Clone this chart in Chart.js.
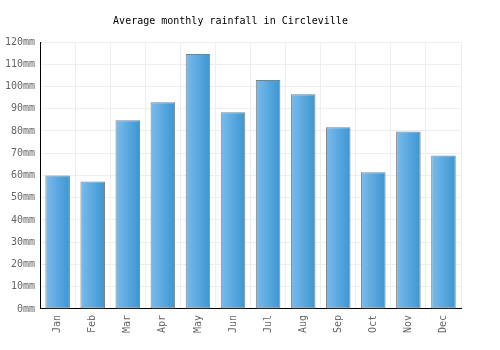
<!DOCTYPE html>
<html><head><meta charset="utf-8">
<script src="https://cdn.jsdelivr.net/npm/chart.js@4"></script>
<style>html,body{margin:0;padding:0;background:#fff}#wrap{width:500px;height:350px}</style>
</head><body><div id="wrap"><canvas id="c" width="500" height="350"></canvas></div>
<script>
const months = ["Jan","Feb","Mar","Apr","May","Jun","Jul","Aug","Sep","Oct","Nov","Dec"];
const rainfall = [60, 57.3, 84.8, 92.9, 114.6, 88.4, 102.9, 96.5, 81.7, 61.4, 79.8, 69];
const yTicks = [0,10,20,30,40,50,60,70,80,90,100,110,120];

const gradPlugin = {
  id: 'grad',
  beforeDatasetsDraw(chart) {
    const ctx = chart.ctx;
    chart.getDatasetMeta(0).data.forEach(bar => {
      const g = ctx.createLinearGradient(bar.x - bar.width/2, 0, bar.x + bar.width/2, 0);
      g.addColorStop(0, '#7bbbec');
      g.addColorStop(1, '#3b96d2');
      bar.options.backgroundColor = g;
    });
  }
};

new Chart(document.getElementById('c'), {
  type: 'bar',
  data: { labels: months, datasets: [{
    data: rainfall,
    backgroundColor: () => '#5aa8e0',
    borderColor: '#808080',
    borderWidth: 1,
    borderSkipped: false,
    barPercentage: 0.7,
    categoryPercentage: 1
  }]},
  options: {
    responsive: false,
    animation: false,
    layout: { padding: { left: 0, right: 39, top: 4, bottom: 11 } },
    plugins: {
      legend: { display: false },
      tooltip: { enabled: false },
      title: { display: true, text: 'Average monthly rainfall in Circleville',
        color: '#000', font: { family: 'DejaVu Sans Mono', size: 10, weight: 'normal' },
        padding: { top: 11, bottom: 15 } }
    },
    scales: {
      x: {
        grid: { color: '#eeeeee', offset: true, drawTicks: false },
        border: { color: '#000', width: 1 },
        ticks: { color: '#666', font: { family: 'DejaVu Sans Mono', size: 10 }, maxRotation: 90, minRotation: 90, padding: 6 }
      },
      y: {
        min: 0, max: 120,
        afterBuildTicks: s => { s.ticks = yTicks.map(v => ({ value: v })); },
        grid: { color: '#eeeeee', drawTicks: false },
        border: { color: '#000', width: 1 },
        ticks: { color: '#666', font: { family: 'DejaVu Sans Mono', size: 10 }, padding: 5, callback: v => v + 'mm' }
      }
    }
  },
  plugins: [gradPlugin]
});
</script></body></html>
